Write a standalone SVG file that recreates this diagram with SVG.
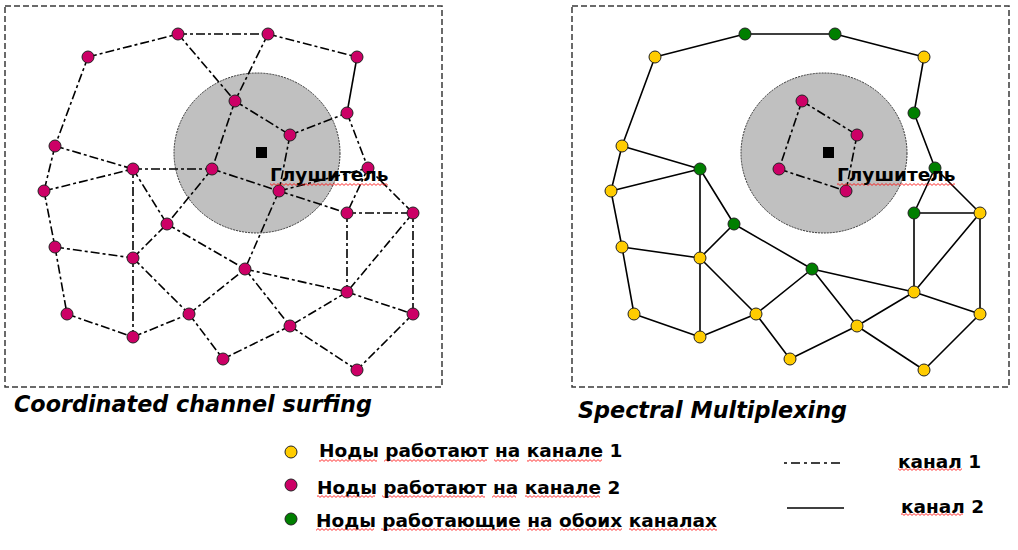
<svg xmlns="http://www.w3.org/2000/svg" width="1018" height="550" viewBox="0 0 1018 550">
<defs>
<style>
.frame{fill:none;stroke:#3a3a3a;stroke-width:1.5;stroke-dasharray:6 3}
.zone{fill:#c0c0c0;stroke:#333;stroke-width:1;stroke-dasharray:2 1}
.e{stroke:#000;stroke-width:1.6;fill:none}
.dd{stroke-dasharray:9 3 3 3}
.n{stroke:#222;stroke-width:1}
.m{fill:#cc0066}
.y{fill:#ffcc00}
.g{fill:#007f00}
.sq{fill:url(#sq)}
text{font-family:"DejaVu Sans","Liberation Sans",sans-serif;font-weight:bold;fill:#000}
.lab{font-size:18.5px}
.title{font-size:22.3px;font-style:italic}
.leg{font-size:18.5px}
</style>
<pattern id="sq" patternUnits="userSpaceOnUse" x="0" y="0" width="4" height="3">
<path d="M0 2.4L2 0.6L4 2.4" fill="none" stroke="#f00" stroke-width="0.8"/>
</pattern>
</defs>
<rect class="frame" x="5" y="6" width="437" height="381"/>
<rect class="frame" x="572" y="6" width="437" height="381"/>
<g id="jammer-left">
<ellipse class="zone" cx="257" cy="153" rx="83" ry="80"/>
<rect x="256" y="147" width="11" height="11" fill="#000"/>
</g>
<g id="jammer-right">
<ellipse class="zone" cx="824" cy="153" rx="83" ry="80"/>
<rect x="823" y="147" width="11" height="11" fill="#000"/>
</g>
<g id="connectors-left" class="e">
<path class="dd" d="M88 57L178 34M178 34L268 34M268 34L357 57M88 57L55 146M178 34L235 101M268 34L235 101M235 101L290 135M290 135L347 113M235 101L212 169M290 135L279 191M347 113L368 168M55 146L133 169M55 146L44 191M44 191L133 169M133 169L212 169M212 169L279 191M212 169L167 224M133 169L167 224M133 169L133 258M279 191L347 213M279 191L245 269M279 191L368 168M368 168L347 213M368 168L413 213M347 213L413 213M347 213L347 292M413 213L347 292M413 213L413 314M44 191L55 247M55 247L133 258M55 247L67 314M133 258L167 224M133 258L189 314M133 258L133 337M67 314L133 337M133 337L189 314M189 314L245 269M189 314L223 359M167 224L245 269M245 269L347 292M245 269L290 326M347 292L290 326M347 292L413 314M290 326L223 359M290 326L357 370M413 314L357 370"/>
<path d="M357 57L347 113"/>
</g>
<g id="connectors-right" class="e" transform="translate(567,0)">
<path d="M88 57L178 34M178 34L268 34M268 34L357 57M357 57L347 113M88 57L55 146M347 113L368 168M55 146L133 169M55 146L44 191M44 191L133 169M133 169L133 258M133 169L167 224M368 168L347 213M368 168L413 213M347 213L413 213M347 213L347 292M413 213L347 292M413 213L413 314M44 191L55 247M55 247L133 258M55 247L67 314M133 258L167 224M133 258L189 314M133 258L133 337M67 314L133 337M133 337L189 314M189 314L245 269M189 314L223 359M167 224L245 269M245 269L347 292M245 269L290 326M347 292L290 326M347 292L413 314M290 326L223 359M290 326L357 370M413 314L357 370"/>
<path class="dd" d="M235 101L290 135M235 101L212 169M290 135L279 191M212 169L279 191"/>
</g>
<g id="nodes-left" class="n">
<circle id="nA" class="m" cx="88" cy="57" r="6"/>
<circle id="nB" class="m" cx="178" cy="34" r="6"/>
<circle id="nC" class="m" cx="268" cy="34" r="6"/>
<circle id="nD" class="m" cx="357" cy="57" r="6"/>
<circle id="nE" class="m" cx="347" cy="113" r="6"/>
<circle id="nF" class="m" cx="235" cy="101" r="6"/>
<circle id="nG" class="m" cx="290" cy="135" r="6"/>
<circle id="nH" class="m" cx="55" cy="146" r="6"/>
<circle id="nI" class="m" cx="133" cy="169" r="6"/>
<circle id="nJ" class="m" cx="212" cy="169" r="6"/>
<circle id="nK" class="m" cx="368" cy="168" r="6"/>
<circle id="nL" class="m" cx="44" cy="191" r="6"/>
<circle id="nM" class="m" cx="279" cy="191" r="6"/>
<circle id="nN" class="m" cx="347" cy="213" r="6"/>
<circle id="nO" class="m" cx="413" cy="213" r="6"/>
<circle id="nP" class="m" cx="167" cy="224" r="6"/>
<circle id="nQ" class="m" cx="55" cy="247" r="6"/>
<circle id="nR" class="m" cx="133" cy="258" r="6"/>
<circle id="nS" class="m" cx="245" cy="269" r="6"/>
<circle id="nT" class="m" cx="347" cy="292" r="6"/>
<circle id="nU" class="m" cx="67" cy="314" r="6"/>
<circle id="nV" class="m" cx="189" cy="314" r="6"/>
<circle id="nW" class="m" cx="413" cy="314" r="6"/>
<circle id="nX" class="m" cx="133" cy="337" r="6"/>
<circle id="nY" class="m" cx="290" cy="326" r="6"/>
<circle id="nZ" class="m" cx="223" cy="359" r="6"/>
<circle id="nAA" class="m" cx="357" cy="370" r="6"/>
</g>
<g id="nodes-right" class="n" transform="translate(567,0)">
<circle id="rA" class="y" cx="88" cy="57" r="6"/>
<circle id="rB" class="g" cx="178" cy="34" r="6"/>
<circle id="rC" class="g" cx="268" cy="34" r="6"/>
<circle id="rD" class="y" cx="357" cy="57" r="6"/>
<circle id="rE" class="g" cx="347" cy="113" r="6"/>
<circle id="rF" class="m" cx="235" cy="101" r="6"/>
<circle id="rG" class="m" cx="290" cy="135" r="6"/>
<circle id="rH" class="y" cx="55" cy="146" r="6"/>
<circle id="rI" class="g" cx="133" cy="169" r="6"/>
<circle id="rJ" class="m" cx="212" cy="169" r="6"/>
<circle id="rK" class="g" cx="368" cy="168" r="6"/>
<circle id="rL" class="y" cx="44" cy="191" r="6"/>
<circle id="rM" class="m" cx="279" cy="191" r="6"/>
<circle id="rN" class="g" cx="347" cy="213" r="6"/>
<circle id="rO" class="y" cx="413" cy="213" r="6"/>
<circle id="rP" class="g" cx="167" cy="224" r="6"/>
<circle id="rQ" class="y" cx="55" cy="247" r="6"/>
<circle id="rR" class="y" cx="133" cy="258" r="6"/>
<circle id="rS" class="g" cx="245" cy="269" r="6"/>
<circle id="rT" class="y" cx="347" cy="292" r="6"/>
<circle id="rU" class="y" cx="67" cy="314" r="6"/>
<circle id="rV" class="y" cx="189" cy="314" r="6"/>
<circle id="rW" class="y" cx="413" cy="314" r="6"/>
<circle id="rX" class="y" cx="133" cy="337" r="6"/>
<circle id="rY" class="y" cx="290" cy="326" r="6"/>
<circle id="rZ" class="y" cx="223" cy="359" r="6"/>
<circle id="rAA" class="y" cx="357" cy="370" r="6"/>
</g>
<g id="spellcheck">
<rect class="sq" x="270" y="183" width="118" height="3"/>
<rect class="sq" x="837" y="183" width="118" height="3"/>
<rect class="sq" x="319" y="459" width="58" height="3"/>
<rect class="sq" x="384" y="459" width="103" height="3"/>
<rect class="sq" x="494" y="459" width="24" height="3"/>
<rect class="sq" x="527" y="459" width="75" height="3"/>
<rect class="sq" x="317" y="495" width="58" height="3"/>
<rect class="sq" x="382" y="495" width="103" height="3"/>
<rect class="sq" x="492" y="495" width="24" height="3"/>
<rect class="sq" x="525" y="495" width="75" height="3"/>
<rect class="sq" x="316" y="528" width="58" height="3"/>
<rect class="sq" x="381" y="528" width="139" height="3"/>
<rect class="sq" x="527" y="528" width="24" height="3"/>
<rect class="sq" x="560" y="528" width="62" height="3"/>
<rect class="sq" x="629" y="528" width="88" height="3"/>
<rect class="sq" x="898" y="468" width="64" height="3"/>
<rect class="sq" x="901" y="513" width="62" height="3"/>
</g>
<g id="labels">
<text class="lab" x="270" y="181">Глушитель</text>
<text class="lab" x="837" y="181">Глушитель</text>
<text class="title" x="14" y="412">Coordinated channel surfing</text>
<text class="title" x="578" y="418">Spectral Multiplexing</text>
</g>
<g id="legend">
<circle class="n y" cx="291" cy="452" r="6"/>
<circle class="n m" cx="291" cy="485" r="6"/>
<circle class="n g" cx="291" cy="519" r="6"/>
<text class="leg" x="319" y="457">Ноды работают на канале 1</text>
<text class="leg" x="317" y="494">Ноды работают на канале 2</text>
<text class="leg" x="316" y="527">Ноды работающие на обоих каналах</text>
<line class="e" x1="784" y1="463" x2="842" y2="463" stroke-dasharray="3 4 9 4"/>
<line class="e" x1="787" y1="508" x2="844" y2="508" stroke="#222"/>
<text class="leg" x="898" y="468">канал 1</text>
<text class="leg" x="901" y="513">канал 2</text>
</g>
</svg>
